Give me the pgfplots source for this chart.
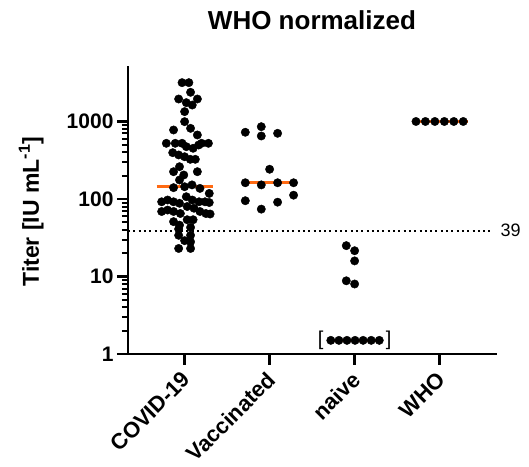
\documentclass[border=0pt]{standalone}
\usepackage{fontspec}
\setmainfont{Liberation Sans}
\usepackage{pgfplots}
\pgfplotsset{compat=1.18}
\definecolor{medorange}{HTML}{FF6A13}
\newcommand{\tickfont}{\fontsize{21}{24}\selectfont\bfseries}
\begin{document}
\begin{tikzpicture}[x=1pt,y=1pt]
\path[use as bounding box] (-128,-112) rectangle (401,354);
\begin{axis}[
    at={(0,0)}, anchor=south west,
    scale only axis, width=369pt, height=288pt,
    ymode=log, ymin=1, ymax=5200,
    xmin=-0.666, xmax=3.675,
    axis x line=bottom, axis y line=left,
    axis line style={-, line width=2.5pt},
    tick align=outside,
    major tick length=11pt, minor tick length=6pt,
    tick style={line width=2.4pt, black},
    minor tick style={line width=2pt},
    xtick={0,1,2,3},
    xticklabels={COVID-19,Vaccinated,naive,WHO},
    ytick={1,10,100,1000},
    yticklabels={1,10,100,1000},
    xticklabel style={rotate=45, anchor=north east, inner sep=1pt, xshift=-5.3pt, yshift=0.2pt,
                      font=\fontsize{22}{25}\selectfont\bfseries},
    yticklabel style={font=\tickfont},
    /pgf/number format/assume math mode=true,
    clip=false,
  ]
  % median lines (behind the dots)
  \addplot[medorange, line width=3pt] coordinates {(-0.33,144) (0.33,144)};
  \addplot[medorange, line width=3pt] coordinates {(0.675,162) (1.32,162)};
  \addplot[medorange, line width=3pt] coordinates {(1.67,1.5) (2.33,1.5)};
  \addplot[medorange, line width=3pt] coordinates {(2.67,1000) (3.33,1000)};

  % threshold
  \addplot[black, line width=2pt, dash pattern=on 2pt off 3.3pt] coordinates {(-0.666,39) (3.635,39)};
  \node[anchor=west, font=\fontsize{18}{20}\selectfont] at (axis cs:3.675,39) {39};

  % COVID-19
  \addplot[only marks, mark=*, mark size=4.2pt, black] coordinates {
    (-0.03,3170) (0.05,3170)
    (0.07,2380)
    (-0.07,1950) (0.15,1950)
    (0.02,1750) (0.09,1630)
    (0.0,1340)
    (0.0,995)
    (-0.13,777) (0.07,816) (0.15,670)
    (-0.215,523) (-0.11,523) (-0.03,523) (0.2,523) (0.28,523)
    (0.02,473) (0.1,451) (0.165,497)
    (-0.14,396) (-0.07,370) (0.0,351) (0.067,325) (0.126,325)
    (-0.06,261) (-0.13,225) (0.15,225) (-0.01,204) (-0.06,176)
    (-0.13,140) (0.0,144) (0.087,152) (0.18,137)
    (0.29,118)
    (-0.27,92) (-0.2,97) (-0.13,92) (-0.06,88) (0.02,107) (0.09,97) (0.17,92) (0.24,92) (0.29,90)
    (-0.27,69) (-0.2,72) (-0.13,69) (-0.05,65) (0.03,80) (0.11,76) (0.18,69) (0.25,65) (0.3,64)
    (-0.13,51) (-0.06,46) (0.03,54) (0.1,54)
    (-0.07,41) (0.07,43) (-0.07,34) (0.07,34) (0.0,29) (0.07,28)
    (-0.07,23) (0.07,23)
  };

  % Vaccinated
  \addplot[only marks, mark=*, mark size=4.2pt, black] coordinates {
    (0.714,726) (0.902,857) (0.902,650) (1.094,704)
    (1.0,242)
    (0.714,162) (0.902,152) (1.094,162) (1.282,162)
    (0.714,95) (0.902,74) (1.094,91) (1.282,112)
  };

  % naive
  \addplot[only marks, mark=*, mark size=4.2pt, black] coordinates {
    (1.902,25) (2.0,21.5) (2.0,15.9) (1.902,8.8) (2.0,8.0)
    (1.72,1.5) (1.815,1.5) (1.91,1.5) (2.005,1.5) (2.1,1.5) (2.195,1.5) (2.29,1.5)
  };
  \node[font=\fontsize{20}{22}\selectfont] at (axis cs:1.6,1.5) {[};
  \node[font=\fontsize{20}{22}\selectfont] at (axis cs:2.4,1.5) {]};

  % WHO
  \addplot[only marks, mark=*, mark size=4.2pt, black] coordinates {
    (2.722,1000) (2.833,1000) (2.944,1000) (3.056,1000) (3.167,1000) (3.278,1000)
  };
\end{axis}
\node[anchor=base, font=\fontsize{26}{30}\selectfont\bfseries] at (184,324.5) {WHO normalized};
\node[rotate=90, anchor=base, font=\fontsize{23}{26}\selectfont\bfseries] at (-89,142.3) {Titer [IU mL\textsuperscript{-1}]};
\end{tikzpicture}
\end{document}
